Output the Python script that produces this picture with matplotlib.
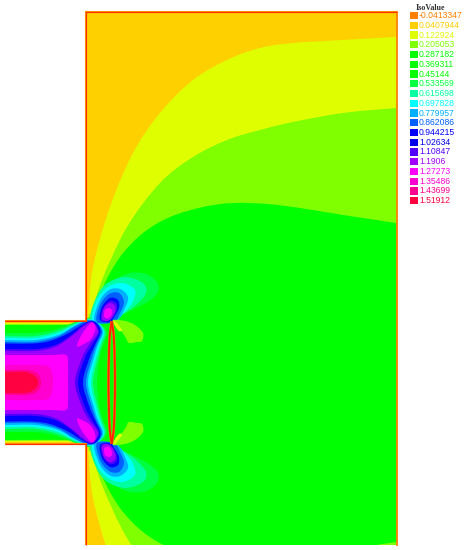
import numpy as np
import matplotlib
matplotlib.use('Agg')
import matplotlib.pyplot as plt
from matplotlib.path import Path
from matplotlib.patches import PathPatch, Rectangle

# legend values and colours
iso_labels = ['-0.0413347', '0.0407944', '0.122924', '0.205053', '0.287182', '0.369311', '0.45144',
              '0.533569', '0.615698', '0.697828', '0.779957', '0.862086', '0.944215', '1.02634',
              '1.10847', '1.1906', '1.27273', '1.35486', '1.43699', '1.51912']
iso_colors = ['#FF8000', '#FFD000', '#DFFF00', '#7FFF00', '#00FF00', '#00FF00', '#00FF00',
              '#00FF40', '#00FFA0', '#00FFFF', '#00B0FF', '#0060FF', '#0000FF', '#0000E8',
              '#5000FF', '#A000FF', '#FF00FF', '#FF00D0', '#FF0090', '#FF0040']

# iso boundaries (pixels), upper half only, field is symmetric about cy
cy = 382.5
yellow_edge = [(87.5, 325), (88, 317), (93, 267), (110, 207), (133, 153), (160, 113), (193, 80), (227, 60),
               (260, 48), (293, 43), (343, 40), (396, 37), (430, 36)]
lime_edge = [(88, 325), (92, 313), (102, 280), (127, 227), (160, 183), (193, 157), (227, 140), (260, 130),
             (293, 122), (343, 113), (396, 108), (430, 105)]
green_edge = [(90, 325), (97, 310), (103, 287), (120, 257), (143, 233), (170, 217), (203, 207), (233, 203),
              (267, 204), (300, 208), (343, 215), (396, 223), (430, 229)]

# bands in the inlet channel: left wall, over the top, down to the centre line
chan_yellow = [(5, 323), (80, 323), (90, 322), (100, 330), (100, 382.5)]
chan_lime = [(5, 324), (80, 324), (92, 322), (102, 330), (102, 382.5)]
chan_green = [(5, 325), (78, 325), (92, 323), (104, 330), (104, 382.5)]
chan_spring = [(5, 333), (40, 332.5), (60, 328), (75, 322), (87, 318), (97, 321), (107, 332), (103, 345), (99.5, 358), (97, 382.5)]
chan_aqua = [(5, 336), (35, 336), (58, 331), (74, 324), (88, 319), (97, 321.5), (105.5, 332), (101.5, 345), (98, 358), (93, 382.5)]
chan_cyan = [(5, 338), (35, 338), (58, 333), (74, 325), (88, 319.5), (97, 322), (104, 332), (100, 345), (96, 358), (91, 382.5)]
chan_sky = [(5, 340), (35, 340), (58, 335), (74, 326), (88, 320), (97, 322.5), (103, 332), (98, 345), (94, 358), (88, 382.5)]
chan_azure = [(5, 342), (35, 342), (58, 336.5), (74, 327), (88, 320.5), (97, 323), (102, 332), (96.5, 345), (92, 358), (86, 382.5)]
chan_blue = [(5, 343.5), (33, 343.5), (50, 341), (67, 334), (80, 326), (90, 321), (97, 323.5), (100.5, 332), (95, 345), (89.5, 358), (83, 382.5)]
chan_indigo = [(5, 349), (35, 349), (55, 345), (70, 336), (82, 326), (92, 321.5), (99, 332), (92, 345), (85, 358), (78, 382.5)]
chan_violet = [(5, 351), (35, 351), (55, 347), (72, 336), (84, 326), (92, 322.5), (98, 332), (89, 345), (82, 358), (75, 382.5)]
chan_magenta = [(5, 355), (50, 355), (66, 355), (68, 365), (68, 382.5)]
chan_pink = [(5, 365), (40, 365), (50, 368), (53, 382.5)]
chan_hot = [(5, 370), (28, 370), (38, 374), (41, 382.5)]
chan_red = [(5, 372), (25, 372), (35, 376), (38, 382.5)]

# nested lobes near the corner
lobe_spring = [(90, 320), (95, 307), (104, 293), (115, 280), (130, 273), (146, 274), (157, 282), (158, 292), (149, 301), (134, 309), (120, 316), (110, 322), (97, 324)]
lobe_aqua = [(91, 321), (95, 300), (106, 284), (125, 277), (143, 283), (146, 293), (136, 305), (122, 315), (112, 322)]
lobe_cyan = [(93, 321), (97, 300), (108, 287), (122, 283), (135, 290), (132, 303), (122, 315), (114, 322)]
lobe_sky = [(95, 322), (99, 302), (109, 290), (120, 289), (128, 297), (125, 308), (117, 320)]
lobe_azure = [(97, 322), (100, 305), (109, 294), (119, 293), (124, 302), (120, 313), (114, 322)]
lobe_blue = [(100, 320), (102, 307), (110, 298), (118, 300), (119, 308), (114, 317), (110, 322)]
lobe_indigo = [(101, 320), (103, 308), (110, 301), (116, 303), (117, 309), (113, 317), (108, 321)]
lobe_violet = [(102, 318), (104, 308), (110, 303), (115, 306), (115, 312), (111, 319), (106, 321)]
lobe_magenta = [(104, 316), (105, 310), (109, 308), (112, 310), (112, 314), (109, 318), (106, 318)]
# second bright lobe inside the channel
inner_lobe = [(77, 345), (82, 334), (91, 323), (95, 325), (95, 331), (90, 340), (80, 346)]

# small patches right of the thin gap
flag_lime = [(113, 320), (125, 321), (135, 325), (143, 333), (142, 341), (137, 342), (129, 343), (126, 338), (122, 332), (117, 325)]
flag_yellow = [(113, 321), (116, 322), (122, 330), (119, 331), (115, 326)]

# the lens shaped thin gap
lens_left = [(111.7, 321), (109.5, 340), (108.5, 382.5)]
lens_right = [(111.7, 321), (114, 340), (115, 382.5)]


def mirror(pts):
    return [(x, 2 * cy - y) for x, y in pts]


def blob(pts):
    # closed smooth path through the points, cubic pieces
    p = np.array(pts, dtype=float)
    n = len(p)
    verts = [p[0]]
    codes = [Path.MOVETO]
    for i in range(n):
        c1 = p[i] + (p[(i + 1) % n] - p[i - 1]) / 6
        c2 = p[(i + 1) % n] - (p[(i + 2) % n] - p[i]) / 6
        verts += [c1, c2, p[(i + 1) % n]]
        codes += [Path.CURVE4] * 3
    return Path(verts, codes)


def open_curve(pts):
    p = np.array(pts, dtype=float)
    n = len(p)
    verts = [p[0]]
    codes = [Path.MOVETO]
    for i in range(n - 1):
        c1 = p[i] + (p[min(i + 1, n - 1)] - p[max(i - 1, 0)]) / 6
        c2 = p[i + 1] - (p[min(i + 2, n - 1)] - p[i]) / 6
        verts += [c1, c2, p[i + 1]]
        codes += [Path.CURVE4] * 3
    return Path(verts, codes)


def edge_region(edge):
    return blob(edge + mirror(edge)[::-1])


def channel_region(half):
    y0 = half[0][1]
    top = [(-60, y0), (-30, y0)] + half
    return blob(top + mirror(top[:-1])[::-1])


fig = plt.figure(figsize=(4.68, 5.5), dpi=100)
ax = fig.add_axes([0, 0, 1, 1])
ax.set_xlim(0, 468)
ax.set_ylim(550, 0)
ax.axis('off')

domain = Path([(5, 321), (86, 321), (86, 12), (397, 12), (397, 545), (86, 545), (86, 444), (5, 444), (5, 321)])
clip = PathPatch(domain, fc='#FFD000', ec='none', zorder=1)
ax.add_patch(clip)

layers = [
    (edge_region(yellow_edge), 2), (edge_region(lime_edge), 3), (edge_region(green_edge), 4),
    (channel_region(chan_yellow), 2), (channel_region(chan_lime), 3), (channel_region(chan_green), 4),
    (channel_region(chan_spring), 7), (blob(lobe_spring), 7), (blob(mirror(lobe_spring)), 7),
    (channel_region(chan_aqua), 8), (blob(lobe_aqua), 8), (blob(mirror(lobe_aqua)), 8),
    (channel_region(chan_cyan), 9), (blob(lobe_cyan), 9), (blob(mirror(lobe_cyan)), 9),
    (channel_region(chan_sky), 10), (blob(lobe_sky), 10), (blob(mirror(lobe_sky)), 10),
    (channel_region(chan_azure), 11), (blob(lobe_azure), 11), (blob(mirror(lobe_azure)), 11),
    (channel_region(chan_blue), 12), (blob(lobe_blue), 12), (blob(mirror(lobe_blue)), 12),
    (channel_region(chan_indigo), 14), (blob(lobe_indigo), 14), (blob(mirror(lobe_indigo)), 14),
    (channel_region(chan_violet), 15), (blob(lobe_violet), 15), (blob(mirror(lobe_violet)), 15),
    (channel_region(chan_magenta), 16), (blob(lobe_magenta), 16), (blob(mirror(lobe_magenta)), 16),
    (blob(inner_lobe), 16), (blob(mirror(inner_lobe)), 16),
    (channel_region(chan_pink), 17), (channel_region(chan_hot), 18), (channel_region(chan_red), 19),
    (blob(flag_lime), 3), (blob(mirror(flag_lime)), 3),
    (blob(flag_yellow), 2), (blob(mirror(flag_yellow)), 2),
]
for i, (path, level) in enumerate(layers):
    patch = PathPatch(path, fc=iso_colors[level], ec='none', zorder=2 + i * 0.01)
    ax.add_patch(patch)
    patch.set_clip_path(clip)

# walls
walls = [[(5, 321), (86, 321), (86, 12), (397, 12)], [(86, 545), (86, 444), (5, 444)]]
for wall in walls:
    xs, ys = zip(*wall)
    ax.plot(xs, ys, color='#FF9000', lw=1.5, zorder=5, solid_capstyle='butt', solid_joinstyle='miter')
    ax.plot(xs, ys, color='#FF3000', lw=0.8, zorder=6, solid_capstyle='butt', solid_joinstyle='miter')
ax.plot([397, 397], [12, 545], color='#FF8000', lw=1.3, zorder=5)

for half in (lens_left, lens_right):
    curve = open_curve(half + mirror(half[:-1])[::-1])
    ax.add_patch(PathPatch(curve, fc='none', ec='#FF8000', lw=2.0, zorder=5))
    ax.add_patch(PathPatch(curve, fc='none', ec='#FF2000', lw=1.3, zorder=6))

# legend
ax.text(430, 8, 'IsoValue', fontsize=5.8, family='Liberation Serif', weight='bold', ha='center', va='center', color='#303030')
for i, (lab, col) in enumerate(zip(iso_labels, iso_colors)):
    y0 = 12 + i * 9.74
    ax.add_patch(Rectangle((410, y0), 8, 7.2, fc=col, ec='none', zorder=3))
    ax.text(419, y0 + 3.6, lab, fontsize=6.2, family='Liberation Sans', color=col, ha='left', va='center')

fig.savefig('out.png', dpi=100)
